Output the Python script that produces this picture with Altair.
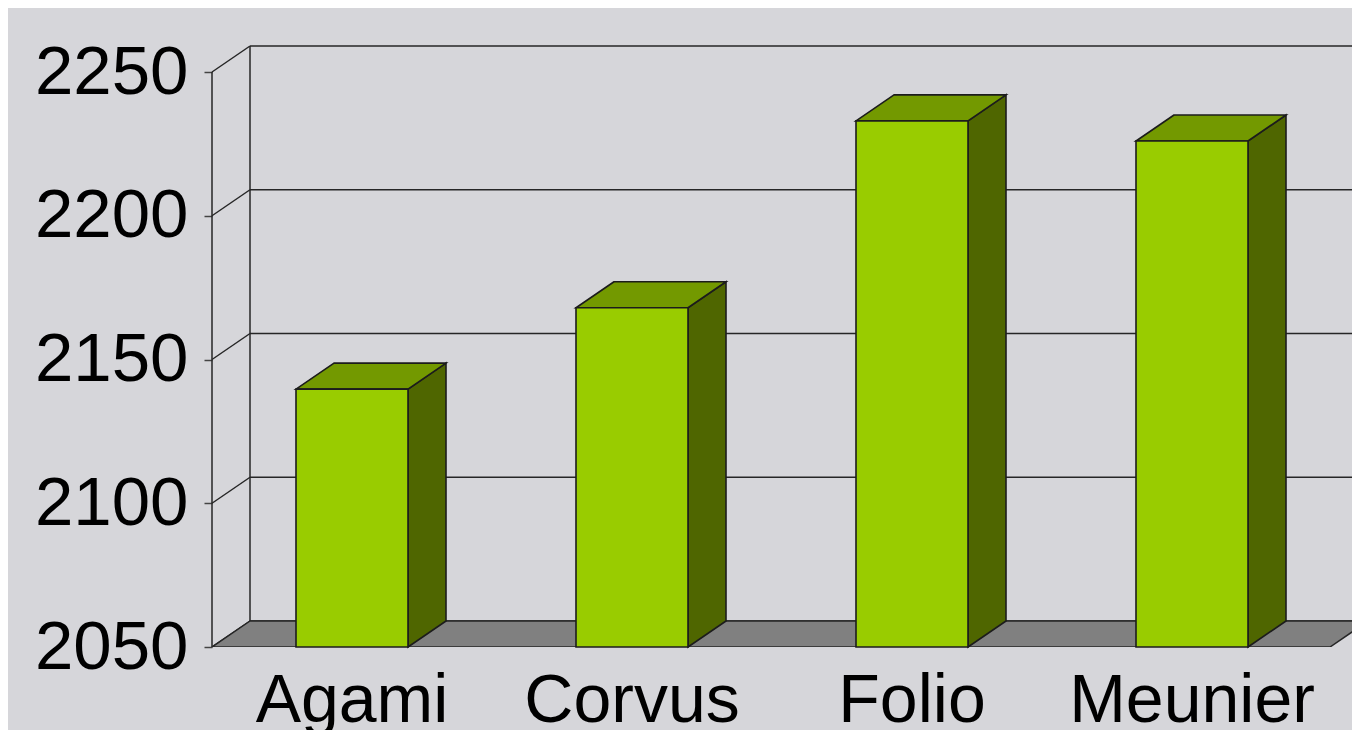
import altair as alt
import pandas as pd

categories = ["Agami", "Corvus", "Folio", "Meunier"]
values = [2139.7, 2168, 2233, 2226]
ticks = [2050, 2100, 2150, 2200, 2250]

BASE = 2050
DX = 38 / 280      # depth, in category units
DV = 26 / 2.875    # depth, in value units
HALF = 0.2         # half bar width, in category units
FLOOR_END = 3.993
X_MAX = 1140 / 280
Y_MAX = BASE + 639 / 2.875
LINE = "#1c1c1c"
WALL = "#262626"

xs = alt.Scale(domain=[0, X_MAX], nice=False, zero=False)
ys = alt.Scale(domain=[BASE, Y_MAX], nice=False, zero=False)
y_axis = alt.Axis(values=ticks, title=None, grid=False, domain=False,
                  tickSize=8, tickColor="#444444", tickWidth=1.5,
                  labelFontSize=69, labelFont="Liberation Sans", labelColor="black",
                  labelPadding=16, format="d")
X = lambda f: alt.X(f, type="quantitative", scale=xs, axis=None)
Y = lambda f: alt.Y(f, type="quantitative", scale=ys, axis=y_axis)

centers = [i + 0.5 for i in range(len(categories))]
bars = pd.DataFrame({"cat": categories, "c": centers, "v": values})
bars["x0"] = bars.c - HALF
bars["x1"] = bars.c + HALF
bars["base"] = BASE

grid = pd.DataFrame({"v": ticks})
grid["x0"] = 0
grid["xd"] = DX
grid["xe"] = X_MAX
grid["vd"] = grid.v + DV

# left wall and back wall
slants = alt.Chart(grid).mark_rule(color=WALL, strokeWidth=1.5).encode(
    x=X("x0"), x2="xd", y=Y("v"), y2="vd")
backs = alt.Chart(grid).mark_rule(color=WALL, strokeWidth=1.5).encode(
    x=X("xd"), x2="xe", y=Y("vd"))
edges = pd.DataFrame({"x": [0, DX], "lo": [BASE, BASE + DV], "hi": [ticks[-1], ticks[-1] + DV]})
verts = alt.Chart(edges).mark_rule(color=WALL, strokeWidth=1.5).encode(
    x=X("x"), y=Y("lo"), y2="hi")

# floor
floor_df = pd.DataFrame({"v": [BASE, BASE + DV], "a": [0, DX], "b": [FLOOR_END, FLOOR_END + DX]})
floor = alt.Chart(floor_df).mark_area(orient="horizontal", color="#808080", stroke=WALL,
                                      strokeWidth=1.5, clip=True).encode(
    y=Y("v"), x=X("a"), x2="b")

# side and top faces of each bar, and the front
side_rows, top_rows = [], []
for cat, c, v in zip(categories, centers, values):
    side_rows += [{"cat": cat, "x": c + HALF, "lo": BASE, "hi": v},
                  {"cat": cat, "x": c + HALF + DX, "lo": BASE + DV, "hi": v + DV}]
    top_rows += [{"cat": cat, "v": v, "a": c - HALF, "b": c + HALF},
                 {"cat": cat, "v": v + DV, "a": c - HALF + DX, "b": c + HALF + DX}]

side = alt.Chart(pd.DataFrame(side_rows)).mark_area(color="#4f6600", stroke=LINE, strokeWidth=1.6).encode(
    x=X("x"), y=Y("lo"), y2="hi", detail="cat")
top = alt.Chart(pd.DataFrame(top_rows)).mark_area(orient="horizontal", color="#739900", stroke=LINE,
                                                  strokeWidth=1.6).encode(
    y=Y("v"), x=X("a"), x2="b", detail="cat")
front = alt.Chart(bars).mark_rect(color="#99cc00", stroke=LINE, strokeWidth=1.6).encode(
    x=X("x0"), x2="x1", y=Y("base"), y2="v")

labels = alt.Chart(bars).mark_text(fontSize=68, font="Liberation Sans", color="black",
                                   baseline="alphabetic", dy=75, clip=False).encode(
    x=X("c"), y=Y("base"), text="cat")

chart = alt.layer(slants, backs, verts, floor, side, top, front, labels).properties(
    width=1140, height=639,
    padding={"left": 204, "top": 0, "right": 0, "bottom": 83},
    autosize=alt.AutoSizeParams(type="none"),
    background="#d6d6da",
).configure_view(stroke=None)

chart.save("out.html", embed_options={"renderer": "svg", "actions": False})
